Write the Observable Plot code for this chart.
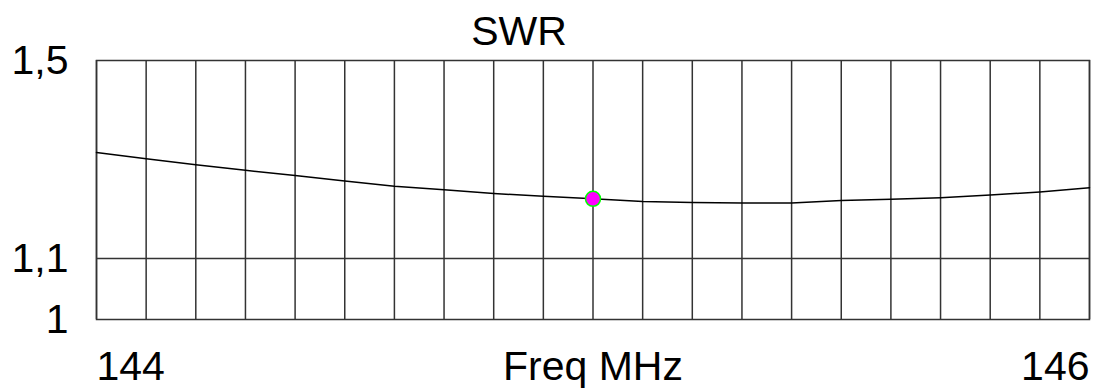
<!DOCTYPE html>
<html><head><meta charset="utf-8">
<script src="https://cdn.jsdelivr.net/npm/d3@7"></script>
<script src="https://cdn.jsdelivr.net/npm/@observablehq/plot@0.6"></script>
<style>body{margin:0;background:#fff} svg{display:block}</style>
</head><body><div id="chart"></div>
<script>
const title = "SWR";
const xLabel = "Freq MHz";
const freq = [144.0, 144.1, 144.2, 144.3, 144.4, 144.5, 144.6, 144.7, 144.8, 144.9, 145.0,
              145.1, 145.2, 145.3, 145.4, 145.5, 145.6, 145.7, 145.8, 145.9, 146.0];
const swr = [1.299, 1.286, 1.274, 1.263, 1.253, 1.242, 1.232, 1.225, 1.218, 1.213, 1.208,
             1.203, 1.201, 1.200, 1.200, 1.205, 1.207, 1.210, 1.215, 1.221, 1.229];
const markerFreq = [145.0];
const markerSwr = [1.208];
const yTicks = [1, 1.1, 1.5];
const xTickLabels = [144, 146];

const fmt = d => String(d).replace(".", ",");
const font = "'Liberation Sans', Arial, sans-serif";
const lineData = freq.map((f, i) => ({f, s: swr[i]}));
const markerData = markerFreq.map((f, i) => ({f, s: markerSwr[i]}));

const chart = Plot.plot({
  width: 1093, height: 390,
  marginLeft: 96, marginRight: 4, marginTop: 60, marginBottom: 71,
  style: {fontFamily: font, fontSize: "41px", color: "#000", background: "#fff", overflow: "visible"},
  x: {domain: [144, 146], label: null},
  y: {type: "log", domain: [1, 1.5], label: null},
  marks: [
    Plot.gridX(freq, {stroke: "#333", strokeOpacity: 1, strokeWidth: 1.5}),
    Plot.ruleY([1.1], {stroke: "#333", strokeWidth: 1.5}),
    Plot.frame({stroke: "#333", strokeWidth: 1.5}),
    Plot.line(lineData, {x: "f", y: "s", stroke: "#000", strokeWidth: 1.5}),
    Plot.dot(markerData, {x: "f", y: "s", r: 7.5, fill: "#ff00ff", stroke: "#00ff00", strokeWidth: 1.5}),
    Plot.axisY(yTicks, {tickSize: 0, tickPadding: 28, tickFormat: fmt, fontSize: 41, label: null}),
    Plot.axisX([xTickLabels[0]], {tickSize: 0, tickPadding: 31, textAnchor: "start", tickFormat: d => String(d), fontSize: 41, label: null}),
    Plot.axisX([xTickLabels[1]], {tickSize: 0, tickPadding: 31, textAnchor: "end", tickFormat: d => String(d), fontSize: 41, label: null}),
    Plot.text([xLabel], {frameAnchor: "bottom", lineAnchor: "top", dy: 31, fontSize: 41}),
    Plot.text([title], {frameAnchor: "top", dx: -74, dy: -29, lineAnchor: "middle", fontSize: 41})
  ]
});
document.getElementById("chart").appendChild(chart);
</script>
</body></html>
